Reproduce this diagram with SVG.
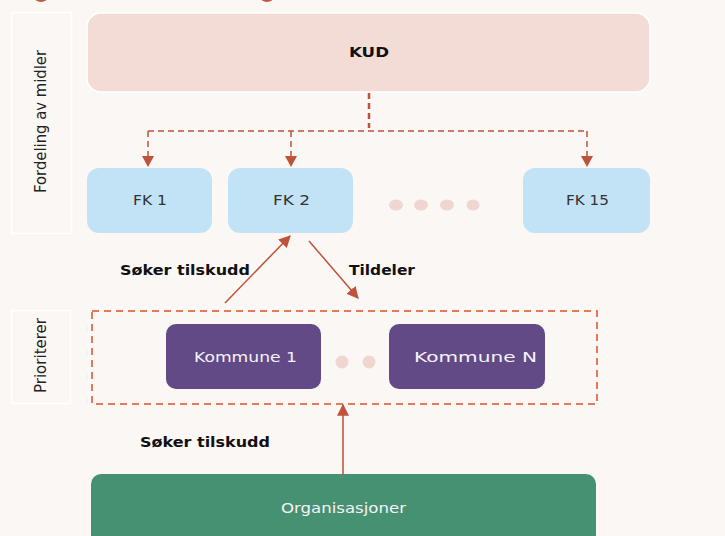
<svg xmlns="http://www.w3.org/2000/svg" width="725" height="536" viewBox="0 0 725 536">
<defs>
<marker id="ahs" viewBox="0 0 10 10" refX="9" refY="5" markerWidth="12" markerHeight="12" markerUnits="userSpaceOnUse" orient="auto"><path d="M0,0 L10,5 L0,10 z" fill="#c0513a"/></marker>
<style>
.lbl{font-family:"DejaVu Sans","Open Sans",sans-serif;font-size:15px;fill:#222;}
.side{fill:none;stroke:#ffffff;stroke-width:1.5;}
.fk{fill:#c2e3f6;}
.fkt{font-family:"DejaVu Sans","Open Sans",sans-serif;font-size:14px;fill:#333;}
.kom{fill:#614a85;}
.wt{font-family:"DejaVu Sans","Open Sans",sans-serif;font-size:14px;fill:#f6f2fa;}
.bold{font-family:"DejaVu Sans","Open Sans",sans-serif;font-size:14.5px;font-weight:700;fill:#111;}
.dot{fill:#f0d6d0;}
.dash{fill:none;stroke:#c0513a;stroke-width:1.5;stroke-dasharray:6,4;}
.arr{fill:none;stroke:#c0513a;stroke-width:1.5;}
</style>
</defs>
<rect x="0" y="0" width="725" height="536" fill="#fbf7f4"/>
<ellipse cx="41" cy="-4" rx="7" ry="6" fill="#c9553a"/>
<ellipse cx="267" cy="-4" rx="7" ry="6" fill="#c9553a"/>

<g id="side-fordeling">
<rect class="side" x="11.5" y="12.5" width="60" height="221"/>
<text class="lbl" transform="translate(46,193) rotate(-90)" textLength="143" lengthAdjust="spacingAndGlyphs">Fordeling av midler</text>
</g>
<g id="side-prioriterer">
<rect class="side" x="11.5" y="310.5" width="59" height="93"/>
<text class="lbl" transform="translate(46,393) rotate(-90)" textLength="75" lengthAdjust="spacingAndGlyphs">Prioriterer</text>
</g>

<g id="kud">
<rect x="87" y="13" width="563" height="79" rx="14" fill="#f3dcd6" stroke="#ffffff" stroke-width="1.5"/>
<text class="bold" x="349" y="57" textLength="40" lengthAdjust="spacingAndGlyphs">KUD</text>
</g>

<g id="fk1"><rect class="fk" x="87" y="168" width="125" height="65" rx="12"/><text class="fkt" x="133" y="205" textLength="34" lengthAdjust="spacingAndGlyphs">FK 1</text></g>
<g id="fk2"><rect class="fk" x="228" y="168" width="125" height="65" rx="12"/><text class="fkt" x="273" y="205" textLength="37" lengthAdjust="spacingAndGlyphs">FK 2</text></g>
<g id="fk15"><rect class="fk" x="523" y="168" width="127" height="65" rx="12"/><text class="fkt" x="566" y="205" textLength="43" lengthAdjust="spacingAndGlyphs">FK 15</text></g>

<g id="fk-dots">
<ellipse class="dot" cx="396" cy="205" rx="7" ry="5.5"/>
<ellipse class="dot" cx="421" cy="205" rx="7" ry="5.5"/>
<ellipse class="dot" cx="447" cy="205" rx="7" ry="5.5"/>
<ellipse class="dot" cx="473" cy="205" rx="6.5" ry="5.5"/>
</g>

<g id="kommune-group">
<rect x="92" y="311" width="505" height="93" fill="none" stroke="#e0502a" stroke-width="1.5" stroke-dasharray="7,5"/>
</g>
<g id="kommune1"><rect class="kom" x="166" y="324" width="155" height="65" rx="10"/><text class="wt" x="194" y="362" textLength="103" lengthAdjust="spacingAndGlyphs">Kommune 1</text></g>
<g id="kommune-dots">
<circle class="dot" cx="342" cy="362" r="6.5"/>
<circle class="dot" cx="369" cy="362" r="6.5"/>
</g>
<g id="kommuneN"><rect class="kom" x="389" y="324" width="156" height="65" rx="10"/><text class="wt" x="414" y="362" textLength="123" lengthAdjust="spacingAndGlyphs">Kommune N</text></g>

<g id="organisasjoner"><rect x="91" y="474" width="505" height="80" rx="10" fill="#469171"/><text class="wt" x="281" y="513" textLength="125" lengthAdjust="spacingAndGlyphs">Organisasjoner</text></g>

<g id="connectors">
<path d="M369,93 V128" fill="none" stroke="#c0513a" stroke-width="2.5" stroke-dasharray="6,4"/>
<path class="dash" d="M148,131 H587"/>
<path class="dash" d="M148,131 V156"/>
<path class="dash" d="M291,131 V156"/>
<path class="dash" d="M587,131 V156"/>
<path d="M142,156 L154,156 L148,167 z" fill="#c0513a"/>
<path d="M285,156 L297,156 L291,167 z" fill="#c0513a"/>
<path d="M581,156 L593,156 L587,167 z" fill="#c0513a"/>
<path class="arr" d="M225,303 L290,236" marker-end="url(#ahs)"/>
<path class="arr" d="M309,241 L358,298" marker-end="url(#ahs)"/>
<path class="arr" d="M343,475 L343,405" marker-end="url(#ahs)"/>
</g>

<text class="bold" x="120" y="275" textLength="130" lengthAdjust="spacingAndGlyphs">Søker tilskudd</text>
<text class="bold" x="349" y="275" textLength="66" lengthAdjust="spacingAndGlyphs">Tildeler</text>
<text class="bold" x="140" y="447" textLength="130" lengthAdjust="spacingAndGlyphs">Søker tilskudd</text>
</svg>
